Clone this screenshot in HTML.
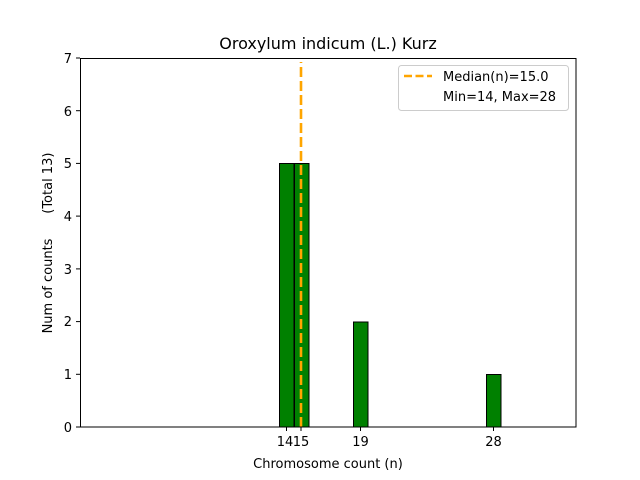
<!DOCTYPE html>
<html><head><style>body{margin:0;background:#fff}svg{display:block}text{font-family:"DejaVu Sans","Liberation Sans",sans-serif;fill:#000;white-space:pre}</style></head><body>
<svg width="640" height="480" xmlns="http://www.w3.org/2000/svg">
<rect width="640" height="480" fill="#fff"/>
<text x="328" y="49" font-size="16" text-anchor="middle">Oroxylum indicum (L.) Kurz</text>
<g stroke="#000" stroke-width="1">
<rect x="279.5" y="163.5" width="14.5" height="263.5" fill="#008000"/>
<rect x="294.5" y="163.5" width="14.5" height="263.5" fill="#008000"/>
<rect x="353.5" y="322" width="14.5" height="105" fill="#008000"/>
<rect x="486.5" y="374.5" width="14.5" height="52.5" fill="#008000"/>
<line x1="501" y1="427" x2="545" y2="427"/>
</g>
<line x1="301" y1="427" x2="301" y2="62" stroke="#ffa500" stroke-width="2.6" stroke-dasharray="10,4"/>
<rect x="80.5" y="58.5" width="495.5" height="368.5" fill="none" stroke="#000" stroke-width="1"/>
<g stroke="#000">
<line x1="76" y1="427" x2="80" y2="427"/><line x1="76" y1="374.3" x2="80" y2="374.3"/><line x1="76" y1="321.6" x2="80" y2="321.6"/><line x1="76" y1="268.9" x2="80" y2="268.9"/><line x1="76" y1="216.1" x2="80" y2="216.1"/><line x1="76" y1="163.4" x2="80" y2="163.4"/><line x1="76" y1="110.7" x2="80" y2="110.7"/><line x1="76" y1="58" x2="80" y2="58"/>
<line x1="286.5" y1="427" x2="286.5" y2="431"/><line x1="301" y1="427" x2="301" y2="431"/><line x1="360.5" y1="427" x2="360.5" y2="431"/><line x1="493.5" y1="427" x2="493.5" y2="431"/>
</g>
<g font-size="13" text-anchor="end">
<text x="72" y="432">0</text><text x="72" y="379">1</text><text x="72" y="326">2</text><text x="72" y="274">3</text><text x="72" y="221">4</text><text x="72" y="168">5</text><text x="72" y="116">6</text><text x="72" y="63">7</text>
</g>
<g font-size="13" text-anchor="middle">
<text x="285" y="446">14</text><text x="301" y="446">15</text><text x="360.5" y="446">19</text><text x="493.5" y="446">28</text>
<text x="328" y="468">Chromosome count (n)</text>
</g>
<text transform="translate(52,243) rotate(-90)" font-size="13" text-anchor="middle" xml:space="preserve">Num of counts      (Total 13)</text>
<rect x="398.5" y="65.5" width="170" height="45" rx="3" fill="#fff" stroke="#ccc"/>
<line x1="404" y1="76" x2="432" y2="76" stroke="#ffa500" stroke-width="2.6" stroke-dasharray="8,3.5"/>
<text x="443" y="81" font-size="13">Median(n)=15.0</text>
<text x="443" y="101" font-size="13">Min=14, Max=28</text>
</svg>
</body></html>
